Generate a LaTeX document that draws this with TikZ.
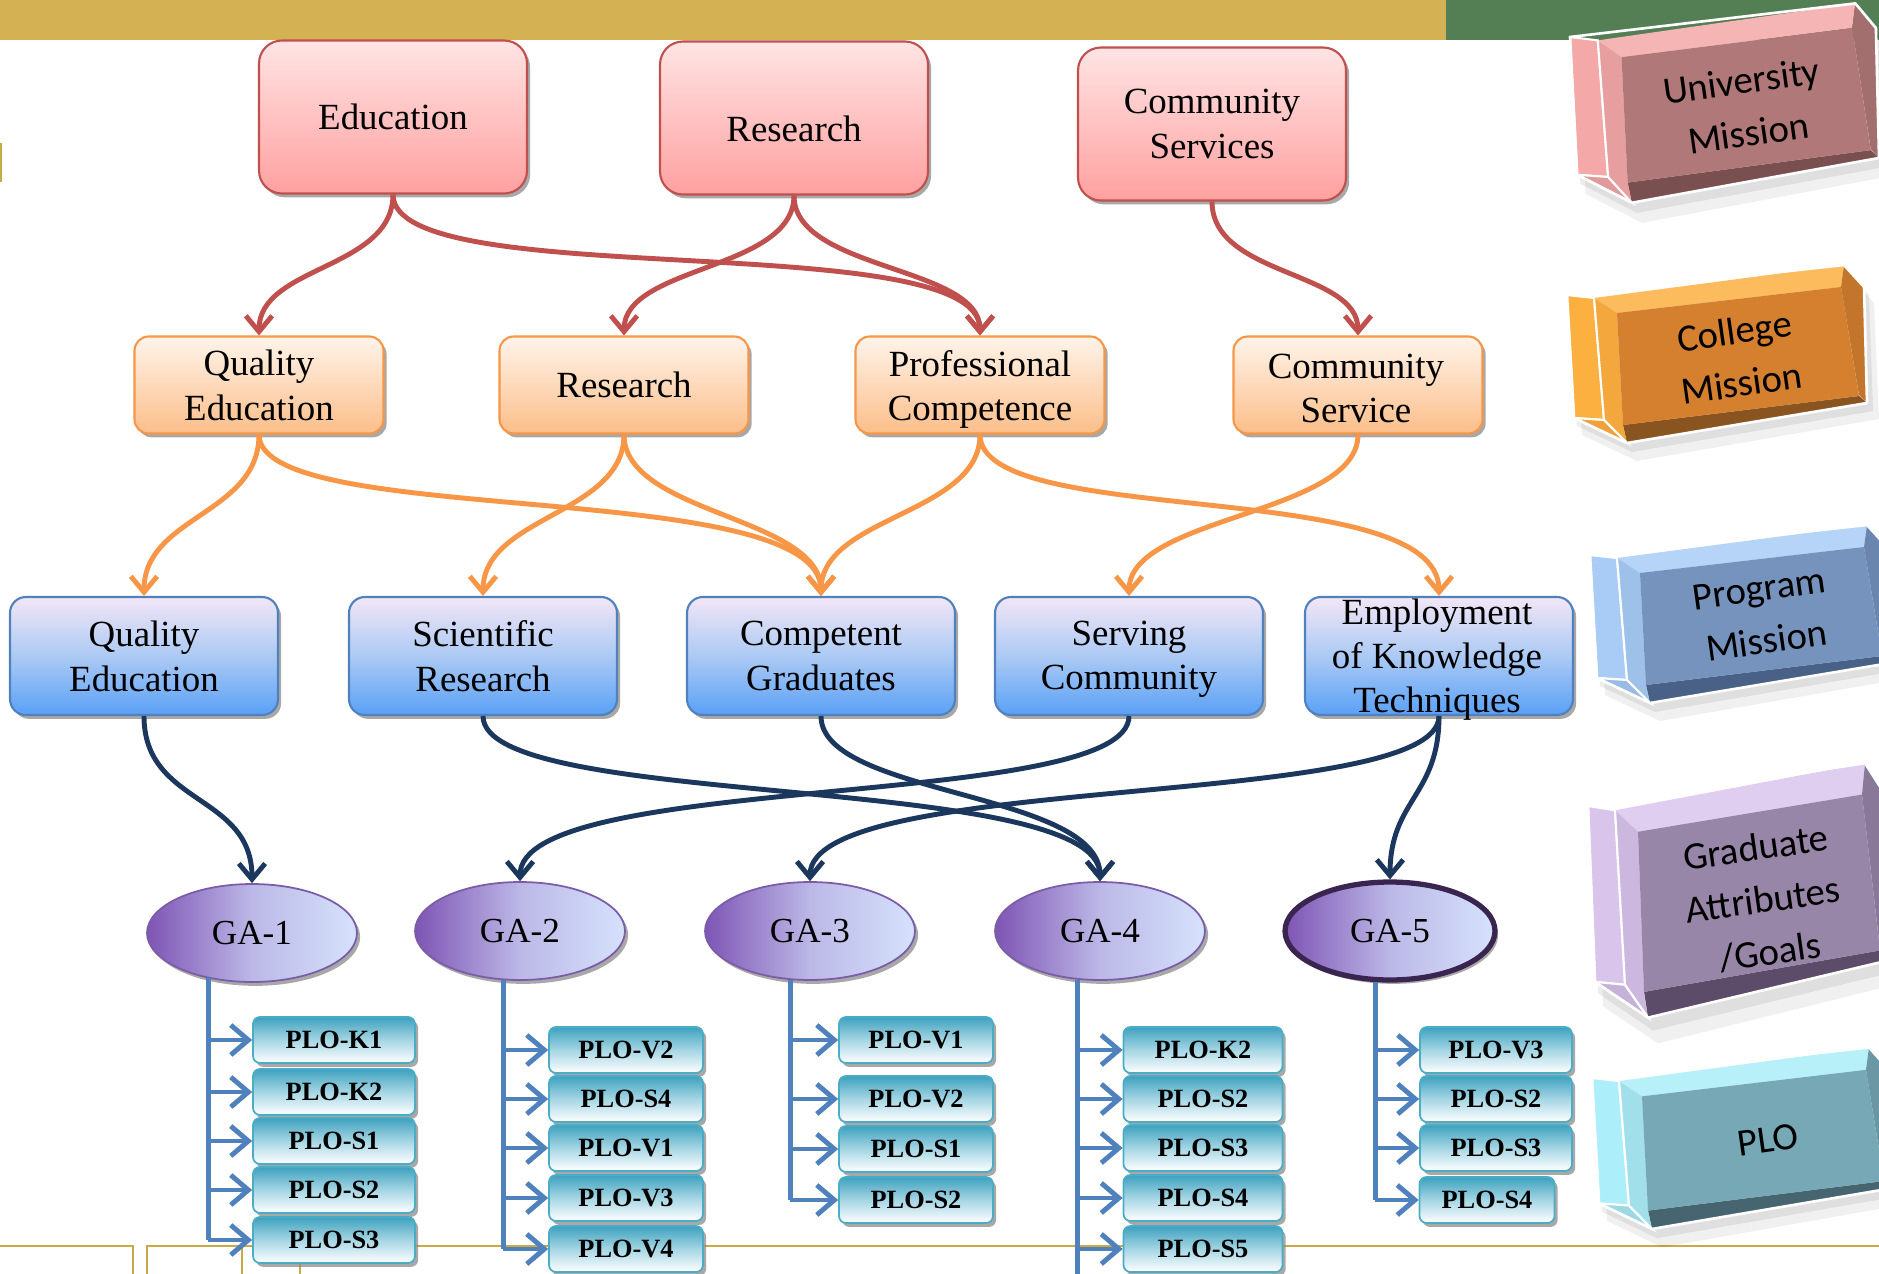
\documentclass[tikz,border=0pt]{standalone}
\usepackage{fontspec}
\setmainfont{Liberation Serif}
\newfontfamily\calib{Carlito}
\usetikzlibrary{arrows.meta,shadows,shapes.geometric}
\definecolor{barGold}{HTML}{D4B253}
\definecolor{barGreen}{HTML}{547F55}
\definecolor{lineGold}{HTML}{C9A944}
\definecolor{redC}{HTML}{C0504D}
\definecolor{orC}{HTML}{F79646}
\definecolor{navyC}{HTML}{1B375D}
\definecolor{bluC}{HTML}{4F81BD}
\definecolor{tealC}{HTML}{4BACC6}
\definecolor{pinkTop}{HTML}{FFE4E4}
\definecolor{pinkBot}{HTML}{FFA0A0}
\definecolor{orTop}{HTML}{FFF4EA}
\definecolor{orBot}{HTML}{FBBE8A}
\definecolor{blTop}{HTML}{F3E6F6}
\definecolor{blMid}{HTML}{ACCAF4}
\definecolor{blBot}{HTML}{5AA0F6}
\definecolor{plTop}{HTML}{3DA1BE}
\definecolor{plMid}{HTML}{A6D6E4}
\definecolor{gaL}{HTML}{7E55B4}
\definecolor{gaR}{HTML}{D6E2FC}
\definecolor{gaB}{HTML}{7A5CA8}
\definecolor{gaDark}{HTML}{3A2450}
\definecolor{uLight}{HTML}{F4A8A8}\definecolor{uFace}{HTML}{B07878}\definecolor{uDark}{HTML}{7A4F4F}
\definecolor{cLight}{HTML}{FBB040}\definecolor{cFace}{HTML}{D4802E}\definecolor{cDark}{HTML}{8A5420}
\definecolor{pLight}{HTML}{A8CCF5}\definecolor{pFace}{HTML}{7593BC}\definecolor{pDark}{HTML}{4A6187}
\definecolor{gLight}{HTML}{D9C5EC}\definecolor{gFace}{HTML}{9886A8}\definecolor{gDark}{HTML}{5D4C69}
\definecolor{lLight}{HTML}{ACEEF9}\definecolor{lFace}{HTML}{77A8B5}\definecolor{lDark}{HTML}{476571}

\newcommand\mblock[7]{%
 \begin{scope}[shift={(#1,#2)},xscale=#3,yscale=#4]
  \fill[black,opacity=0.06] (10,16) -- (287,-14) -- (307,8) -- (312,124) -- (70,166) -- (15,140) -- cycle;
  \fill[black,opacity=0.07] (5,8) -- (282,-22) -- (302,0) -- (306,116) -- (65,157) -- (10,131) -- cycle;
  \filldraw[fill=#5,draw=white,line width=1.2pt] (0,0) -- (27,3) -- (37,125) -- (7,123) -- cycle;
  \filldraw[fill=#5!70!#6,draw=white,line width=1.2pt] (7,123) -- (37,125) -- (60,148) -- cycle;
  \fill[#5!85!white] (27,3) -- (277,-30) -- (274,-8) -- (50,18) -- cycle;
  \fill[#6!75!#7] (277,-30) -- (297,-8) -- (300,108) -- (292,100) -- (274,-8) -- cycle;
  \fill[#7] (56,130) -- (292,101) -- (300,108) -- (60,148) -- cycle;
  \fill[#5!80!#6] (27,3) -- (50,18) -- (56,130) -- (60,148) -- (37,125) -- cycle;
  \fill[#6] (50,18) -- (274,-8) -- (292,101) -- (56,130) -- cycle;
  \draw[white,line width=1.5pt,line join=round] (0,0) -- (277,-30) -- (297,-8) -- (300,108) -- (60,148) -- (7,123) -- cycle;
  \draw[white,line width=1.2pt] (27,3) -- (37,125) -- (60,148);
 \end{scope}}

\tikzset{
 shadowed/.style={drop shadow={shadow xshift=1.8pt,shadow yshift=-2.2pt,fill=black!45,opacity=0.75}},
 pinkbox/.style={rectangle,rounded corners=13pt,draw=redC,line width=1.2pt,top color=pinkTop,bottom color=pinkBot,
   minimum width=5.36cm,minimum height=3.06cm,inner sep=0pt,align=center,font=\fontsize{21}{25.5}\selectfont,shadowed},
 orbox/.style={rectangle,rounded corners=8pt,draw=orC,line width=1.2pt,top color=orTop,bottom color=orBot,
   minimum width=4.98cm,minimum height=1.94cm,inner sep=0pt,align=center,font=\fontsize{21}{25.5}\selectfont,shadowed},
 blbox/.style={rectangle,rounded corners=9pt,draw=bluC,line width=1.2pt,top color=blTop,bottom color=blBot,middle color=blMid,
   minimum width=5.36cm,minimum height=2.36cm,inner sep=0pt,align=center,font=\fontsize{21}{25.5}\selectfont,shadowed},
 plaintext/.style={inner sep=0pt,align=center,font=\fontsize{21}{25}\selectfont},
 gaell/.style={ellipse,draw=gaB,line width=1pt,left color=gaL,right color=gaR,middle color=gaR!70!gaL,
   minimum width=4.2cm,minimum height=1.96cm,inner sep=0pt,font=\fontsize{20}{24}\selectfont,shadowed},
 plo/.style={rectangle,rounded corners=4pt,draw=tealC,line width=1pt,top color=plTop,bottom color=white,middle color=plMid,
   minimum height=0.92cm,inner sep=0pt,font=\bfseries\fontsize{15}{18}\selectfont,shadowed},
 blocktext/.style={inner sep=0pt,align=center,rotate=8,font=\calib\fontsize{22}{30}\selectfont},
 redcurve/.style={draw=redC,line width=2.8pt,-{Straight Barb[length=9pt,width=15pt]}},
 orcurve/.style={draw=orC,line width=2.8pt,-{Straight Barb[length=9pt,width=15pt]}},
 navycurve/.style={draw=navyC,line width=2.8pt,-{Straight Barb[length=9pt,width=15pt]}},
 pline/.style={draw=bluC,line width=2.8pt},
 parrow/.style={draw=bluC,line width=2.8pt,-{Straight Barb[length=10pt,width=17pt]}},
}

\begin{document}
\begin{tikzpicture}[x=0.02cm,y=-0.02cm]
\useasboundingbox (0,0) rectangle (1879,1274);
\fill[white] (0,0) rectangle (1879,1274);
% top bar
\fill[barGold] (0,0) rectangle (1446,40);
\fill[barGreen] (1446,0) rectangle (1879,40);
\draw[lineGold,line width=1.5pt] (1,143) -- (1,182);
% bottom frame lines
\draw[lineGold,line width=1.5pt] (0,1246) -- (133,1246) -- (133,1274);
\draw[lineGold,line width=1.5pt] (147,1274) -- (147,1246) -- (1879,1246);
\draw[lineGold,line width=1.5pt] (242,1246) -- (242,1274);
\draw[lineGold,line width=1.5pt] (300,1262) -- (300,1274);

% 3D blocks
\begin{scope}
\clip (0,0) rectangle (1879,1274);
\mblock{1570}{37}{1.03}{1.12}{uLight}{uFace}{uDark}
\mblock{1567}{295}{1}{1}{cLight}{cFace}{cDark}
\mblock{1590}{555}{1}{1}{pLight}{pFace}{pDark}
\mblock{1588}{806}{1}{1.43}{gLight}{gFace}{gDark}
\mblock{1592}{1078}{1}{1.02}{lLight}{lFace}{lDark}
\end{scope}
\node[blocktext] (tU) at (1745,107) {University\\Mission};
\node[blocktext] (tC) at (1738,357) {College\\Mission};
\node[blocktext] (tP) at (1763,615) {Program\\Mission};
\node[blocktext] (tG) at (1763,900) {Graduate\\Attributes\\/Goals};
\node[blocktext] (tL) at (1768,1140) {PLO};

% row 1
\node[pinkbox] (e1) at (393,117) {Education};
\node[pinkbox] (r1) at (794,118) {};
\node[plaintext] (r1t) at (794,129) {Research};
\node[pinkbox] (c1) at (1212,124) {Community\\Services};
% row 2
\node[orbox] (q2) at (259,385) {Quality\\Education};
\node[orbox] (r2) at (624,385) {Research};
\node[orbox] (pc2) at (980,385) {};
\node[plaintext] (pc2t) at (980,389) {Professional\\Competence};
\node[orbox] (cs2) at (1358,385) {};
\node[plaintext] (cs2t) at (1356,388) {Community\\Service};
% row 3
\node[blbox] (q3) at (144,656) {Quality\\Education};
\node[blbox] (sr3) at (483,656) {Scientific\\Research};
\node[blbox] (cg3) at (821,656) {Competent\\Graduates};
\node[blbox] (sc3) at (1129,656) {};
\node[plaintext] (sc3t) at (1129,656) {\strut Serving\\Community};
\node[blbox] (em3) at (1439,656) {};
\node[plaintext] (em3t) at (1437,660) {Employment\\of Knowledge\\Techniques};
% GA
\node[gaell] (ga1) at (252,933) {GA-1};
\node[gaell] (ga2) at (520,931) {GA-2};
\node[gaell] (ga3) at (810,931) {GA-3};
\node[gaell] (ga4) at (1100,931) {GA-4};
\node[gaell,draw=gaDark,line width=3pt] (ga5) at (1390,931) {GA-5};

% red curves
\draw[redcurve] (e1.south) .. controls +(0,75) and +(0,-70) .. (q2.north);
\draw[redcurve] (e1.south) .. controls +(0,100) and +(0,-110) .. (pc2.north);
\draw[redcurve] (r1.south) .. controls +(0,75) and +(0,-70) .. (r2.north);
\draw[redcurve] (r1.south) .. controls +(0,75) and +(0,-70) .. (pc2.north);
\draw[redcurve] (c1.south) .. controls +(0,75) and +(0,-65) .. (cs2.north);
% orange curves
\draw[orcurve] (q2.south) .. controls +(0,80) and +(0,-80) .. (q3.north);
\draw[orcurve] (q2.south) .. controls +(0,95) and +(0,-120) .. (cg3.north);
\draw[orcurve] (r2.south) .. controls +(0,80) and +(0,-80) .. (sr3.north);
\draw[orcurve] (r2.south) .. controls +(0,80) and +(0,-80) .. (cg3.north);
\draw[orcurve] (pc2.south) .. controls +(0,80) and +(0,-80) .. (cg3.north);
\draw[orcurve] (pc2.south) .. controls +(0,95) and +(0,-120) .. (em3.north);
\draw[orcurve] (cs2.south) .. controls +(0,80) and +(0,-80) .. (sc3.north);
% navy curves
\draw[navycurve] (q3.south) .. controls +(0,90) and +(0,-90) .. (ga1.north);
\draw[navycurve] (sr3.south) .. controls +(0,95) and +(0,-110) .. (ga4.north);
\draw[navycurve] (cg3.south) .. controls +(0,80) and +(0,-90) .. (ga4.north);
\draw[navycurve] (sc3.south) .. controls +(0,95) and +(0,-110) .. (ga2.north);
\draw[navycurve] (em3.south) .. controls +(0,95) and +(0,-110) .. (ga3.north);
\draw[navycurve] (em3.south) .. controls +(0,80) and +(0,-80) .. (ga5.north);

% PLO boxes
\node[plo,minimum width=3.24cm] (p11) at (334,1040) {PLO-K1};
\node[plo,minimum width=3.24cm] (p12) at (334,1092) {PLO-K2};
\node[plo,minimum width=3.24cm] (p13) at (334,1141) {PLO-S1};
\node[plo,minimum width=3.24cm] (p14) at (334,1190) {PLO-S2};
\node[plo,minimum width=3.24cm] (p15) at (334,1240) {PLO-S3};

\node[plo,minimum width=3.08cm] (p21) at (626,1050) {PLO-V2};
\node[plo,minimum width=3.08cm] (p22) at (626,1099) {PLO-S4};
\node[plo,minimum width=3.08cm] (p23) at (626,1148) {PLO-V1};
\node[plo,minimum width=3.08cm] (p24) at (626,1198) {PLO-V3};
\node[plo,minimum width=3.08cm] (p25) at (626,1249) {PLO-V4};

\node[plo,minimum width=3.08cm] (p31) at (916,1040) {PLO-V1};
\node[plo,minimum width=3.08cm] (p32) at (916,1099) {PLO-V2};
\node[plo,minimum width=3.08cm] (p33) at (916,1149) {PLO-S1};
\node[plo,minimum width=3.08cm] (p34) at (916,1200) {PLO-S2};

\node[plo,minimum width=3.18cm] (p41) at (1203,1050) {PLO-K2};
\node[plo,minimum width=3.18cm] (p42) at (1203,1099) {PLO-S2};
\node[plo,minimum width=3.18cm] (p43) at (1203,1148) {PLO-S3};
\node[plo,minimum width=3.18cm] (p44) at (1203,1198) {PLO-S4};
\node[plo,minimum width=3.18cm] (p45) at (1203,1249) {PLO-S5};

\node[plo,minimum width=3.04cm] (p51) at (1496,1050) {PLO-V3};
\node[plo,minimum width=3.04cm] (p52) at (1496,1099) {PLO-S2};
\node[plo,minimum width=3.04cm] (p53) at (1496,1148) {PLO-S3};
\node[plo,minimum width=2.70cm] (p54) at (1487,1200) {PLO-S4};

% PLO connectors
\coordinate (l1) at (ga1.226);
\coordinate (l2) at (ga2.251);
\coordinate (l3) at (ga3.248);
\coordinate (l4) at (ga4.245);
\coordinate (l5) at (ga5.254);
\coordinate (bottomref) at (0,1274);
\draw[pline] (l1) -- (l1 |- p15.west);
\draw[pline] (l2) -- (l2 |- p25.west);
\draw[pline] (l3) -- (l3 |- p34.west);
\draw[pline] (l4) -- (l4 |- bottomref);
\draw[pline] (l5) -- (l5 |- p54.west);
\foreach \i in {1,...,5} {\draw[parrow] (l1 |- p1\i.west) -- (p1\i.west);}
\foreach \i in {1,...,5} {\draw[parrow] (l2 |- p2\i.west) -- (p2\i.west);}
\foreach \i in {1,...,4} {\draw[parrow] (l3 |- p3\i.west) -- (p3\i.west);}
\foreach \i in {1,...,5} {\draw[parrow] (l4 |- p4\i.west) -- (p4\i.west);}
\foreach \i in {1,...,4} {\draw[parrow] (l5 |- p5\i.west) -- (p5\i.west);}
\end{tikzpicture}
\end{document}
